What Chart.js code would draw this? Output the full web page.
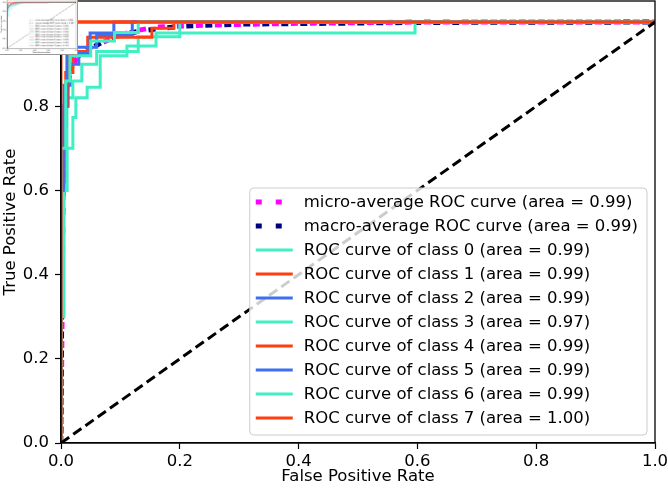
<!DOCTYPE html>
<html>
<head>
<meta charset="utf-8">
<script src="https://cdn.jsdelivr.net/npm/chart.js@4.4.0/dist/chart.umd.min.js"></script>
<style>
  html, body { margin: 0; padding: 0; background: #fff; }
  #wrap { position: relative; width: 668px; height: 491px; }
  #main { position: absolute; left: 0; top: 0; }
  #thumb { position: absolute; left: 0; top: 0; background: #fff; border-right: 1px solid #999; border-bottom: 1px solid #999; }
</style>
</head>
<body>
<div id="wrap">
  <canvas id="main" width="668" height="491"></canvas>
  <canvas id="thumb" width="78" height="55"></canvas>
</div>
<script>
// tick values
const xTicks = [0, 0.2, 0.4, 0.6, 0.8, 1.0];
const yTicks = [0, 0.2, 0.4, 0.6, 0.8, 1.0];

// legend labels
const labels = [
  'micro-average ROC curve (area = 0.99)',
  'macro-average ROC curve (area = 0.99)',
  'ROC curve of class 0 (area = 0.99)',
  'ROC curve of class 1 (area = 0.99)',
  'ROC curve of class 2 (area = 0.99)',
  'ROC curve of class 3 (area = 0.97)',
  'ROC curve of class 4 (area = 0.99)',
  'ROC curve of class 5 (area = 0.99)',
  'ROC curve of class 6 (area = 0.99)',
  'ROC curve of class 7 (area = 1.00)'
];

// [fpr, tpr] points
const rocMicro = [[0,0],[0.003,0.5],[0.004,0.62],[0.006,0.75],[0.008,0.82],[0.012,0.86],[0.018,0.89],[0.025,0.91],[0.035,0.925],[0.05,0.94],[0.066,0.948],[0.09,0.965],[0.12,0.978],[0.16,0.988],[0.25,0.993],[0.4,0.997],[0.6,1],[1,1]];
const rocMacro = [[0,0],[0.002,0.55],[0.004,0.7],[0.007,0.8],[0.01,0.85],[0.015,0.88],[0.02,0.9],[0.03,0.92],[0.045,0.935],[0.06,0.945],[0.08,0.96],[0.1,0.97],[0.14,0.98],[0.2,0.99],[0.3,0.995],[0.6,0.999],[1,1]];
const rocClass0 = [[0,0],[0,0.6],[0.01,0.6],[0.01,0.82],[0.02,0.82],[0.02,0.86],[0.035,0.86],[0.035,0.9],[0.06,0.9],[0.06,0.93],[0.13,0.93],[0.13,0.965],[0.2,0.965],[0.2,1],[1,1]];
const rocClass1 = [[0,0],[0,0.3],[0.003,0.3],[0.003,0.75],[0.008,0.75],[0.008,0.88],[0.02,0.88],[0.02,0.93],[0.045,0.93],[0.045,0.964],[0.153,0.964],[0.153,0.985],[0.19,0.985],[0.19,1],[1,1]];
const rocClass2 = [[0,0],[0,0.58],[0.005,0.58],[0.005,0.85],[0.015,0.85],[0.015,0.9],[0.03,0.9],[0.03,0.925],[0.049,0.925],[0.049,0.974],[0.089,0.974],[0.089,1],[1,1]];
const rocClass3 = [[0,0],[0,0.3],[0.005,0.3],[0.005,0.6],[0.01,0.6],[0.01,0.7],[0.02,0.7],[0.02,0.773],[0.025,0.773],[0.025,0.82],[0.044,0.82],[0.044,0.845],[0.066,0.845],[0.066,0.92],[0.111,0.92],[0.111,0.943],[0.16,0.943],[0.16,0.974],[0.596,0.974],[0.596,1],[1,1]];
const rocClass4 = [[0,0],[0,0.62],[0.005,0.62],[0.005,0.8],[0.012,0.8],[0.012,0.96],[0.025,0.96],[0.025,1],[1,1]];
const rocClass5 = [[0,0],[0,0.6],[0.004,0.6],[0.004,0.8],[0.01,0.8],[0.01,0.94],[0.06,0.94],[0.06,0.97],[0.12,0.97],[0.12,1],[1,1]];
const rocClass6 = [[0,0],[0,0.7],[0.008,0.7],[0.008,0.86],[0.015,0.86],[0.015,0.92],[0.05,0.92],[0.05,0.955],[0.09,0.955],[0.09,0.975],[0.13,0.975],[0.13,1],[1,1]];
const rocClass7 = [[0,0],[0,0.96],[0.015,0.96],[0.015,1],[1,1]];
const chanceLine = [[0,0],[1,1]];

const AQUA = '#3ff0c4', RED = '#ff3f0f', BLUE = '#3f6ff0';

function makeDatasets(k) {
  const curve = (label, data, color, order) => ({
    label, data, borderColor: color, borderWidth: 3 * k, order
  });
  return [
    { label: labels[0], data: rocMicro, borderColor: '#ff00ff', borderWidth: 5 * k, borderDash: [7 * k, 12 * k], order: 11 },
    { label: labels[1], data: rocMacro, borderColor: '#000080', borderWidth: 5 * k, borderDash: [7 * k, 12 * k], borderDashOffset: 9.5 * k, order: 10 },
    curve(labels[2], rocClass0, AQUA, 9),
    curve(labels[3], rocClass1, RED, 8),
    curve(labels[4], rocClass2, BLUE, 7),
    curve(labels[5], rocClass3, AQUA, 6),
    curve(labels[6], rocClass4, RED, 5),
    curve(labels[7], rocClass5, BLUE, 4),
    curve(labels[8], rocClass6, AQUA, 3),
    curve(labels[9], rocClass7, RED, 2),
    { label: '', data: chanceLine, borderColor: '#000', borderWidth: 3 * k, borderDash: [10 * k, 5 * k], order: 1 }
  ].map(d => Object.assign({ showLine: true, pointRadius: 0, fill: false, tension: 0, clip: 0 }, d));
}

// axes frame + legend box drawn over the data
const frameAndLegend = {
  id: 'frameAndLegend',
  afterDatasetsDraw(chart, args, opts) {
    const ctx = chart.ctx;
    const ca = chart.chartArea;
    const k = opts.k || 1;
    ctx.save();
    ctx.strokeStyle = '#000';
    ctx.lineWidth = 1.3 * k;
    ctx.strokeRect(ca.left, ca.top, ca.right - ca.left, ca.bottom - ca.top);

    const items = chart.data.datasets.filter(d => d.label);
    ctx.font = (16.5 * k) + 'px "DejaVu Sans"';
    const textW = Math.max(...items.map(d => ctx.measureText(d.label).width));
    const rowH = 24 * k, handle = 37 * k;
    const w = 6 * k + handle + 11 * k + textW + 9 * k;
    const h = items.length * rowH + 7 * k;
    const x = ca.right - 8 * k - w;
    const y = ca.bottom - 8 * k - h;
    ctx.beginPath();
    ctx.roundRect(x, y, w, h, 4 * k);
    ctx.fillStyle = 'rgba(255,255,255,0.8)';
    ctx.fill();
    ctx.strokeStyle = '#cccccc';
    ctx.lineWidth = 1 * k;
    ctx.stroke();

    ctx.textBaseline = 'middle';
    ctx.textAlign = 'left';
    items.forEach((d, i) => {
      const cy = y + 14 * k + i * rowH;
      ctx.beginPath();
      ctx.strokeStyle = d.borderColor;
      ctx.lineWidth = d.borderWidth;
      ctx.setLineDash(d.borderDash ? [6 * k, 14 * k] : []);
      ctx.moveTo(x + 6 * k, cy);
      ctx.lineTo(x + 6 * k + handle, cy);
      ctx.stroke();
      ctx.setLineDash([]);
      ctx.fillStyle = '#000';
      ctx.fillText(d.label, x + 6 * k + handle + 11 * k, cy + 1 * k);
    });
    ctx.restore();
  }
};

function makeChart(canvas, dims) {
  const k = dims.k;
  const font = { family: 'DejaVu Sans', size: 16.5 * k };
  return new Chart(canvas, {
    type: 'scatter',
    data: { datasets: makeDatasets(k) },
    options: {
      responsive: false,
      animation: false,
      events: [],
      layout: { padding: { left: 0, right: dims.right, top: dims.top, bottom: 0 } },
      plugins: {
        legend: { display: false },
        tooltip: { enabled: false },
        frameAndLegend: { k }
      },
      scales: {
        x: {
          type: 'linear', min: 0, max: 1,
          afterBuildTicks: s => { s.ticks = xTicks.map(v => ({ value: v })); },
          afterFit: s => { s.height = dims.xHeight; s.paddingLeft = 0; s.paddingRight = 0; },
          ticks: { callback: v => v.toFixed(1), font, color: '#000', padding: 3 * k, maxRotation: 0, autoSkip: false },
          grid: { drawOnChartArea: false, tickLength: 6 * k, color: '#000', tickWidth: 1.2 * k },
          border: { color: '#000', width: 1.3 * k },
          title: { display: true, text: 'False Positive Rate', font, color: '#000', padding: { top: 0, bottom: 4 * k } }
        },
        y: {
          type: 'linear', min: 0, max: 1.05,
          afterBuildTicks: s => { s.ticks = yTicks.map(v => ({ value: v })); },
          afterFit: s => { s.width = dims.yWidth; s.paddingTop = 0; s.paddingBottom = 0; },
          ticks: { callback: v => v.toFixed(1), font, color: '#000', padding: 6 * k, autoSkip: false },
          grid: { drawOnChartArea: false, tickLength: 6 * k, color: '#000', tickWidth: 1.2 * k },
          border: { color: '#000', width: 1.3 * k },
          title: { display: true, text: 'True Positive Rate', font, color: '#000', padding: { top: 1 * k, bottom: 0 } }
        }
      }
    },
    plugins: [frameAndLegend]
  });
}

makeChart(document.getElementById('main'), { k: 1, yWidth: 61, xHeight: 48, right: 13, top: 1 });
makeChart(document.getElementById('thumb'), { k: 0.118, yWidth: 7, xHeight: 5.7, right: 1, top: 0 });
</script>
</body>
</html>
